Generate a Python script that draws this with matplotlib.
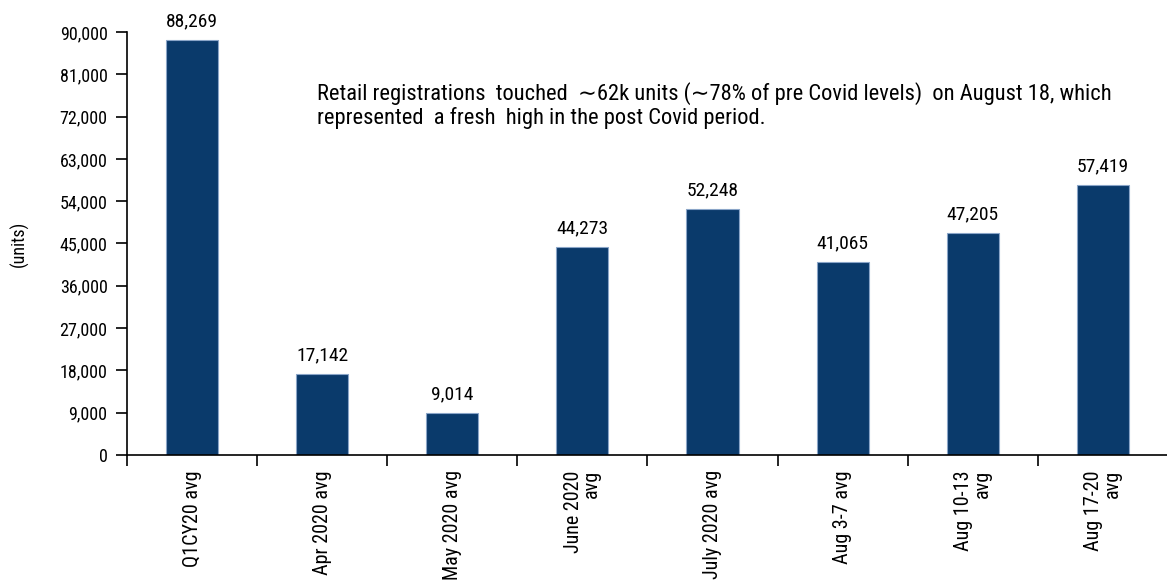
import matplotlib.pyplot as plt
from matplotlib.ticker import FuncFormatter, FixedLocator

plt.rcParams['font.family'] = ['Roboto Condensed', 'DejaVu Sans']

# data
categories = ['Q1CY20 avg', 'Apr 2020 avg', 'May 2020 avg', 'June 2020\navg',
              'July 2020 avg', 'Aug 3-7 avg', 'Aug 10-13\navg', 'Aug 17-20\navg']
units = [88269, 17142, 9014, 44273, 52248, 41065, 47205, 57419]
y_ticks = list(range(0, 90001, 9000))
note = ('Retail registrations  touched  \u223c62k units (\u223c78% of pre Covid levels)  on August 18, which\n'
        'represented  a fresh  high in the post Covid period.')

fig = plt.figure(figsize=(11.67, 5.88), dpi=100)
ax = fig.add_axes([0.1088, 0.2262, 0.892, 0.7194])

x = list(range(len(categories)))
bars = ax.bar(x, units, width=0.4, color='#0a3a6b', edgecolor='#8aa5c8', linewidth=0.8)

for xi, v in zip(x, units):
    ax.annotate('{:,}'.format(v), (xi, v), xytext=(0, 7), textcoords='offset points',
                ha='center', va='bottom', fontsize=14)

ax.set_xlim(-0.5, len(categories) - 0.5)
ax.set_ylim(0, 90000)
ax.set_yticks(y_ticks)
ax.yaxis.set_major_formatter(FuncFormatter(lambda v, p: '{:,}'.format(int(v))))
ax.tick_params(axis='y', direction='out', length=8, width=1.2, labelsize=13, pad=6)

# ticks between categories, labels centered on bars
ax.xaxis.set_major_locator(FixedLocator([i - 0.5 for i in range(len(categories) + 1)]))
ax.xaxis.set_major_formatter(FuncFormatter(lambda v, p: ''))
ax.set_xticks(x, minor=True)
ax.set_xticklabels(categories, minor=True, rotation=90, fontsize=14.5,
                   multialignment='right', linespacing=0.95)
ax.tick_params(axis='x', which='major', direction='out', length=8, width=1.2)
ax.tick_params(axis='x', which='minor', length=0, pad=11)

for s in ['top', 'right']:
    ax.spines[s].set_visible(False)
ax.spines['left'].set_linewidth(1.2)
ax.spines['bottom'].set_linewidth(1.2)

ax.set_ylabel('(units)', fontsize=13, labelpad=22)

ax.text(0.183, 0.882, note, transform=ax.transAxes, fontsize=16.2, va='top', ha='left',
        linespacing=1.1)

fig.savefig('out.png', dpi=100)
